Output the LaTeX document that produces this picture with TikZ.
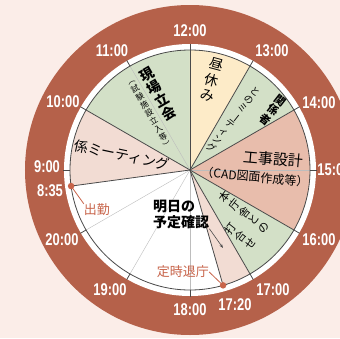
\documentclass[tikz,border=0pt]{standalone}
\usepackage{fontspec}
\usetikzlibrary{arrows.meta}
\newfontfamily\cjk{Noto Sans CJK JP}
\newfontfamily\hourf[FakeStretch=0.76]{Liberation Sans}
\definecolor{bg}{HTML}{FBEDE8}
\definecolor{ring}{HTML}{B5614A}
\definecolor{pinkseg}{HTML}{F2DCD3}
\definecolor{greenseg}{HTML}{D3E0C7}
\definecolor{yellowseg}{HTML}{FDEBC8}
\definecolor{salmonseg}{HTML}{E8BDAC}
\definecolor{accent}{HTML}{C8644A}
\definecolor{edge}{HTML}{4A4A4A}
\definecolor{guide}{HTML}{BDBDBD}
\newcommand{\vbar}{\rotatebox[origin=c]{-90}{ー}}
\newcommand{\vlp}{\rotatebox[origin=c]{-90}{（}}
\newcommand{\vrp}{\rotatebox[origin=c]{-90}{）}}
\begin{document}
\begin{tikzpicture}[x=1pt,y=1pt,
  hour/.style={text=white, font=\hourf\bfseries\fontsize{17}{17}\selectfont, inner sep=0},
  jp/.style={font=\cjk\fontsize{14}{15}\selectfont, inner sep=0, align=center},
  jpv/.style 2 args={font=\cjk\fontsize{#1}{#2}\selectfont, inner sep=0, align=center},
  jpvb/.style 2 args={font=\cjk\bfseries\fontsize{#1}{#2}\selectfont, inner sep=0, align=center},
  seg/.style={draw=edge, line width=0.8},
  guideline/.style={draw=guide, line width=0.4},
  dotmark/.style={circle, fill=accent, inner sep=0, minimum size=6.5},
  accentline/.style={draw=accent, line width=0.8}
]
\fill[bg] (-190,-168) rectangle (150,170);
\useasboundingbox (-190,-168) rectangle (150,170);
\fill[ring] (0,0) circle[radius=165];
\fill[white] (0,0) circle[radius=126];
% segments
\fill[pinkseg] (0,0) -- (187.7:120) arc[start angle=187.7, end angle=150, radius=120] -- cycle;
\fill[greenseg] (0,0) -- (150:120) arc[start angle=150, end angle=90, radius=120] -- cycle;
\fill[yellowseg] (0,0) -- (90:120) arc[start angle=90, end angle=60, radius=120] -- cycle;
\fill[greenseg] (0,0) -- (60:120) arc[start angle=60, end angle=30, radius=120] -- cycle;
\fill[salmonseg] (0,0) -- (30:120) arc[start angle=30, end angle=-30, radius=120] -- cycle;
\fill[greenseg] (0,0) -- (-30:120) arc[start angle=-30, end angle=-60, radius=120] -- cycle;
\fill[pinkseg] (0,0) -- (-60:120) arc[start angle=-60, end angle=-74, radius=120] -- cycle;
% guide lines
\coordinate (c) at (0,0);
\foreach \a in {120,0,-90,-120,-150} \draw[guideline] (c) -- (\a:120);
% boundaries
\foreach \a in {187.7,150,90,60,30,-30,-60,-74} \draw[seg] (c) -- (\a:120);
\draw[seg] (c) circle[radius=120];
\foreach \a in {0,30,...,330} \draw[seg] (\a:120) -- (\a:126.5);
% hour labels
\node[hour] (h12) at (0,139) {12:00};
\node[hour] (h13) at (82,119) {13:00};
\node[hour] (h14) at (129,67) {14:00};
\node[hour] (h15) at (144,0) {15:00};
\node[hour] (h16) at (129,-70) {16:00};
\node[hour] (h17) at (83,-120) {17:00};
\node[hour] (h1720) at (45,-135) {17:20};
\node[hour] (h18) at (0,-140) {18:00};
\node[hour] (h19) at (-80,-120) {19:00};
\node[hour] (h20) at (-128,-70) {20:00};
\node[hour] (h835) at (-140,-21) {8:35};
\node[hour] (h9) at (-143,3) {9:00};
\node[hour] (h10) at (-127,68) {10:00};
\node[hour] (h11) at (-78,119) {11:00};
% segment texts
\node[jp, rotate=-12] (kakari) at (-68,15) {係ミーティング};
\node[jpvb={14}{15}, rotate=30] (genba) at (-32,76) {現\\場\\立\\会};
\node[jpv={8}{9.3}, rotate=30] (genbasub) at (-41,57) {\vlp\\試\\験\\施\\設\\立\\入\\等\\\vrp};
\node[jpv={14}{16}, rotate=-15] (hiru) at (22,90) {昼\\休\\み};
\node[jpvb={11}{12.3}, rotate=-38] (kankei) at (83,60) {関\\係\\者};
\node[jpv={9.5}{10.2}, rotate=-38] (meeting) at (43,50) {と\\の\\ミ\\\vbar\\テ\\ィ\\ン\\グ};
\node[jp, rotate=-5, font=\cjk\fontsize{15}{16}\selectfont] (sekkei) at (83,11) {工事設計};
\node[jp, rotate=-5, font=\cjk\fontsize{12}{13}\selectfont] (cad) at (65,-7) {（CAD図面作成等）};
\node[jpv={11}{12.5}, rotate=52] (honcho) at (54,-42) {本\\庁\\舎\\と\\の};
\node[jpv={11}{12.5}, rotate=52] (uchi) at (50,-66) {打\\合\\せ};
\node[jp, align=left, anchor=north west, font=\cjk\bfseries\fontsize{14}{15.5}\selectfont] (kakunin) at (-37,-30) {明日の\\予定確認};
\coordinate (tip) at (33,-78);
\draw[edge, line width=0.6, -{Stealth[length=4pt,width=3pt]}] (kakunin.south east) -- (tip);
% start / end markers
\node[dotmark] (d835) at (187.7:120) {};
\node[dotmark] (d1720) at (-74:120) {};
\node[jp, text=accent, font=\cjk\fontsize{13}{14}\selectfont] (shukkin) at (-93,-40) {出勤};
\node[jp, text=accent, font=\cjk\fontsize{13}{14}\selectfont] (teiji) at (-7,-102) {定時退庁};
\draw[accentline] (d835.center) -- (shukkin.north west);
\draw[accentline] (teiji.east) -- (d1720.center);
\end{tikzpicture}
\end{document}
